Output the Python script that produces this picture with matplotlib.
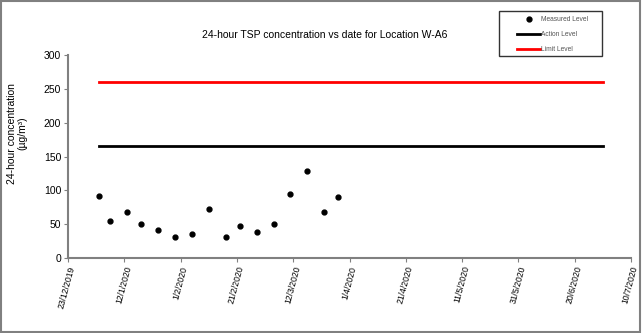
import datetime as dt
import matplotlib
matplotlib.use("Agg")
import matplotlib.pyplot as plt
from matplotlib.patches import Rectangle

plt.rcParams['font.family'] = ['Liberation Sans', 'DejaVu Sans']

# measured 24-hour TSP (ug/m3)
sample_dates = ["3/1/2020", "7/1/2020", "13/1/2020", "18/1/2020", "24/1/2020",
                "30/1/2020", "5/2/2020", "11/2/2020", "17/2/2020", "22/2/2020",
                "28/2/2020", "5/3/2020", "11/3/2020", "17/3/2020", "23/3/2020",
                "28/3/2020"]
measured = [92, 55, 68, 50, 41, 31, 36, 73, 31, 48, 39, 50, 94, 128, 68, 90]

level_dates = ["3/1/2020", "30/6/2020"]
action_level = [166, 166]
limit_level = [260, 260]

tick_dates = ["23/12/2019", "12/1/2020", "1/2/2020", "21/2/2020", "12/3/2020",
              "1/4/2020", "21/4/2020", "11/5/2020", "31/5/2020", "20/6/2020",
              "10/7/2020"]


def parse(s):
    return dt.datetime.strptime(s, "%d/%m/%Y")


fig = plt.figure(figsize=(6.42, 3.33), dpi=100)
ax = fig.add_axes([0.106, 0.225, 0.877, 0.61])

ax.plot([parse(d) for d in sample_dates], measured, 'o', color='black',
        markersize=3.5, label='Measured Level')
ax.plot([parse(d) for d in level_dates], action_level, color='black', lw=2,
        label='Action Level')
ax.plot([parse(d) for d in level_dates], limit_level, color='red', lw=2,
        label='Limit Level')

ticks = [parse(d) for d in tick_dates]
ax.set_xlim(ticks[0], ticks[-1])
ax.set_xticks(ticks)
ax.set_xticklabels(tick_dates, rotation=75, ha='right', va='top',
                   rotation_mode='anchor', fontsize=6.2)
ax.set_ylim(0, 300)
ax.set_yticks(range(0, 301, 50))
ax.tick_params(axis='y', labelsize=7.5, length=3, color='#808080', pad=2)
ax.tick_params(axis='x', length=3, color='#808080', pad=2)

for s in ['top', 'right']:
    ax.spines[s].set_visible(False)
for s in ['left', 'bottom']:
    ax.spines[s].set_color('#808080')
    ax.spines[s].set_linewidth(1.5)

ax.set_ylabel("24-hour concentration\n(µg/m³)", fontsize=7.5, linespacing=1.15)
ax.yaxis.set_label_coords(-0.0715, 0.615)
fig.text(0.505, 0.895, "24-hour TSP concentration vs date for Location W-A6",
         ha='center', va='center', fontsize=7.5)

# legend without its own frame; box drawn separately (wider than tall padding)
leg = ax.legend(loc='upper left', bbox_to_anchor=(0.8053, 0.952),
                bbox_transform=fig.transFigure, fontsize=4.8, frameon=False,
                handlelength=3.45, handletextpad=0.2, labelspacing=1.2,
                borderpad=0, borderaxespad=0)
for t in leg.get_texts():
    t.set_color('#555555')
fig.patches.append(Rectangle((0.7773, 0.8318), 0.1604, 0.1351, transform=fig.transFigure,
                             fill=False, edgecolor='#333333', lw=1))

fig.patches.append(Rectangle((0.002, 0.003), 0.995, 0.993, transform=fig.transFigure,
                             fill=False, edgecolor='#808080', lw=1.5))

fig.savefig("out.png", dpi=100)
